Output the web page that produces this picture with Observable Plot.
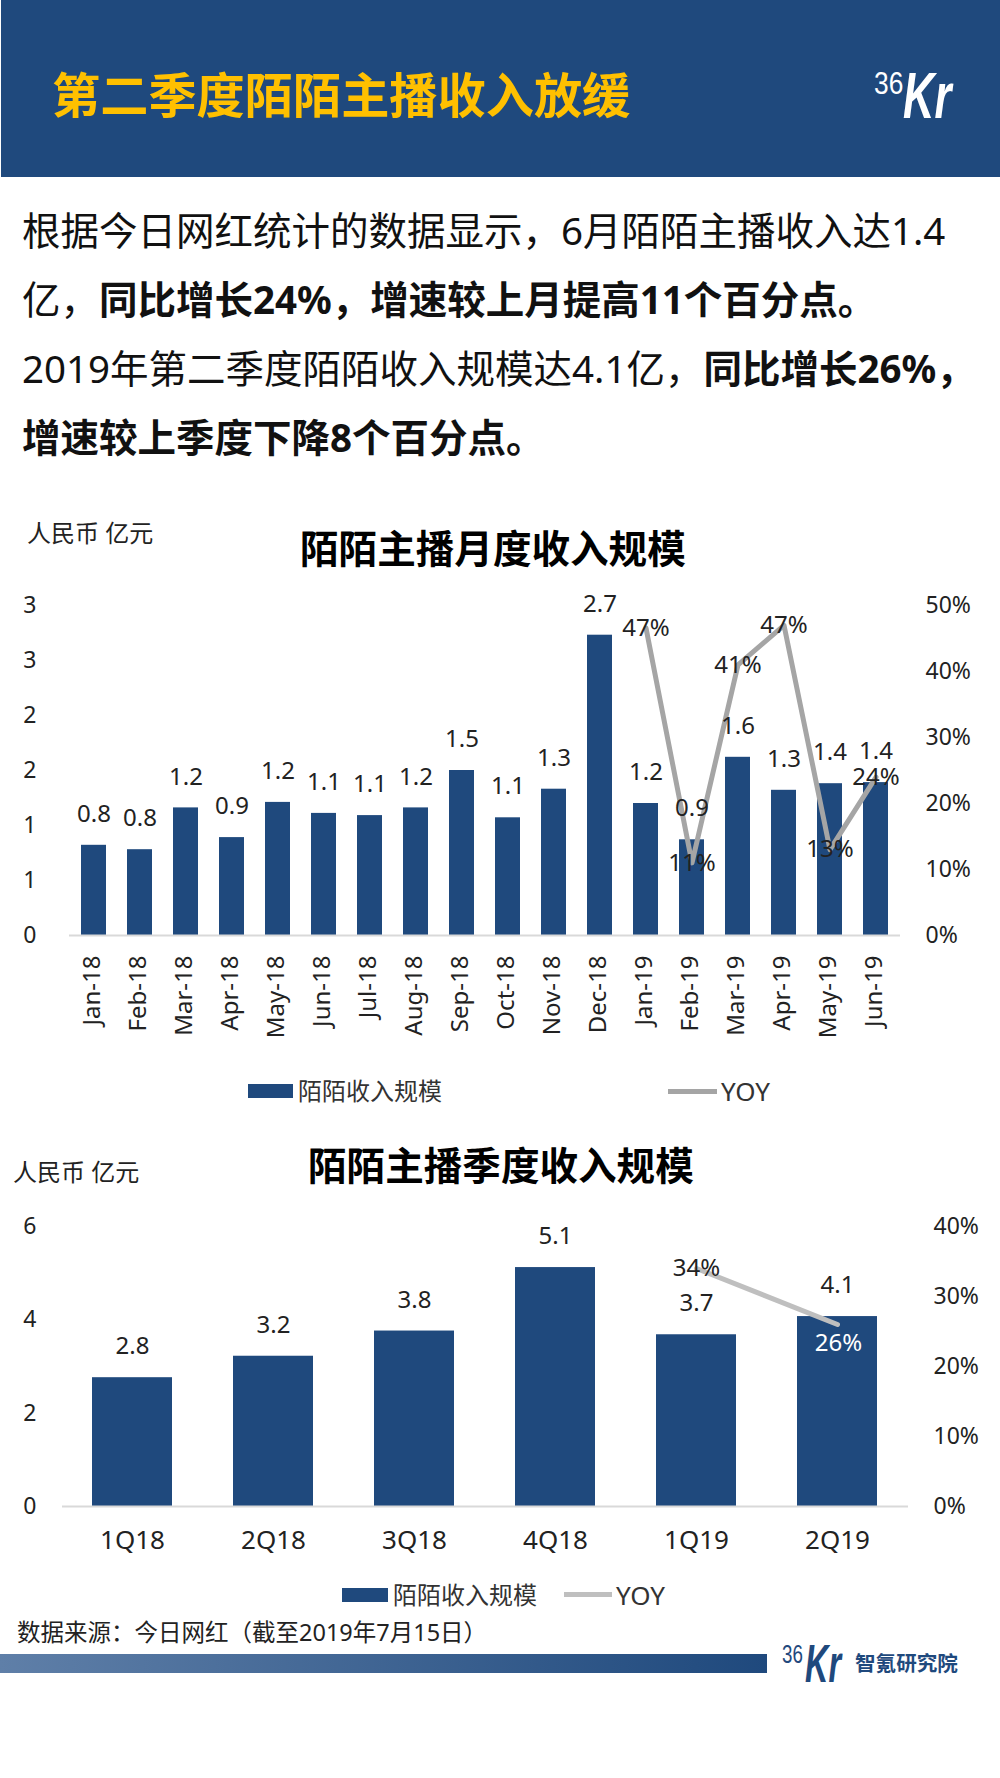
<!DOCTYPE html>
<html>
<head>
<meta charset="utf-8">
<script src="https://cdn.jsdelivr.net/npm/d3@7"></script>
<script src="https://cdn.jsdelivr.net/npm/@observablehq/plot@0.6"></script>
<style>
  html, body { margin: 0; padding: 0; background: #fff; }
  #page { position: relative; width: 1000px; height: 1778px; overflow: hidden;
    font-family: "Noto Sans", "Noto Sans CJK SC", sans-serif; color: #111; }
  #page > * { position: absolute; white-space: nowrap; }
  #page svg { overflow: visible; background: transparent; }
  .header { left: 1px; top: 0; width: 999px; height: 177px; background: #1f497d; }
  .headline { left: 52px; top: 58px; font-size: 48.2px; line-height: 72px; font-weight: 700; color: #ffc000; }
  .body-line { left: 22px; font-size: 38.5px; line-height: 50px; }
  .body-line b { font-weight: 700; }
  .chart-title { font-size: 38.6px; line-height: 50px; font-weight: 700; color: #000; }
  .unit { font-size: 24px; line-height: 30px; color: #222; }
  .legend { font-size: 24px; line-height: 30px; color: #333; }
  .latin { font-size: 26px; }
  .swatch { background: #1f497d; }
  .logo-36 { font-family: "Liberation Sans", sans-serif; transform-origin: left center; }
  .logo-kr { font-family: "Liberation Sans", sans-serif; font-weight: 700; font-style: italic; transform-origin: left center; }
</style>
</head>
<body>
<div id="page">
  <div class="header"></div>
  <div class="headline">第二季度陌陌主播收入放缓</div>
  <div class="logo-36" style="left:874px;top:66px;font-size:31px;line-height:36px;color:#fff;transform:scaleX(.85)">36</div>
  <div class="logo-kr" style="left:903px;top:64px;font-size:64px;line-height:64px;color:#fff;transform:scaleX(.68)">Kr</div>

  <div class="body-line" style="top:205px">根据今日网红统计的数据显示，6月陌陌主播收入达1.4</div>
  <div class="body-line" style="top:274px">亿，<b>同比增长24%，增速较上月提高11个百分点。</b></div>
  <div class="body-line" style="top:343px">2019年第二季度陌陌收入规模达4.1亿，<b>同比增长26%，</b></div>
  <div class="body-line" style="top:412px"><b>增速较上季度下降8个百分点。</b></div>

  <div class="unit" style="left:27px;top:518px">人民币 亿元</div>
  <div class="chart-title" style="left:300px;top:523px">陌陌主播月度收入规模</div>
  <div id="chart1" style="left:0;top:585px"></div>
  <div class="swatch" style="left:248px;top:1084px;width:45px;height:14px"></div>
  <div class="legend" style="left:298px;top:1076px">陌陌收入规模</div>
  <div style="left:668px;top:1089px;width:49px;height:5px;background:#a5a5a5"></div>
  <div class="legend latin" style="left:721px;top:1076px">YOY</div>

  <div class="unit" style="left:13px;top:1157px">人民币 亿元</div>
  <div class="chart-title" style="left:308px;top:1140px">陌陌主播季度收入规模</div>
  <div id="chart2" style="left:0;top:1200px"></div>
  <div class="swatch" style="left:342px;top:1588px;width:46px;height:14px"></div>
  <div class="legend" style="left:393px;top:1580px">陌陌收入规模</div>
  <div style="left:564px;top:1592px;width:48px;height:5px;background:#bfbfbf"></div>
  <div class="legend latin" style="left:616px;top:1580px">YOY</div>

  <div style="left:17px;top:1617px;font-size:23.5px;line-height:30px;color:#222">数据来源：今日网红（截至2019年7月15日）</div>
  <div style="left:0;top:1654px;width:767px;height:19px;background:linear-gradient(90deg,#5f7fa8,#1f497d)"></div>
  <div class="logo-36" style="left:782px;top:1636px;font-size:25px;line-height:36px;color:#1f497d;transform:scaleX(.75)">36</div>
  <div class="logo-kr" style="left:805px;top:1636px;font-size:54px;line-height:54px;color:#1f497d;transform:scaleX(.6)">Kr</div>
  <div style="left:855px;top:1648px;font-size:20.6px;line-height:30px;font-weight:700;color:#1f497d">智氪研究院</div>
</div>

<script>
// 月度数据
const months = ["Jan-18","Feb-18","Mar-18","Apr-18","May-18","Jun-18","Jul-18","Aug-18","Sep-18","Oct-18","Nov-18","Dec-18","Jan-19","Feb-19","Mar-19","Apr-19","May-19","Jun-19"]
const monthRevenue = [0.82,0.78,1.16,0.89,1.21,1.11,1.09,1.16,1.5,1.07,1.33,2.73,1.2,0.87,1.62,1.32,1.38,1.39]
const yoyMonths = ["Jan-19","Feb-19","Mar-19","Apr-19","May-19","Jun-19"]
const monthYoy = [46.6,11,41,47,13,24]
const monthLeftTicks = [0,0.5,1,1.5,2,2.5,3]
const monthLeftLabels = ["0","1","1","2","2","3","3"]
const monthRightLabels = ["0%","10%","20%","30%","40%","50%"]

// 季度数据
const quarters = ["1Q18","2Q18","3Q18","4Q18","1Q19","2Q19"]
const quarterRevenue = [2.76,3.22,3.76,5.12,3.68,4.07]
const yoyQuarters = ["1Q19","2Q19"]
const quarterYoy = [34,26]
const quarterLeftTicks = [0,2,4,6]
const quarterRightLabels = ["0%","10%","20%","30%","40%"]

const font = '"Noto Sans", "Noto Sans CJK SC", sans-serif'
const blue = "#1f497d"
const ink = "#222"

const monthData = months.map((m, i) => ({m, v: monthRevenue[i]}))
const monthLine = yoyMonths.map((m, i) => ({m, yoy: monthYoy[i]}))
const quarterData = quarters.map((m, i) => ({m, v: quarterRevenue[i]}))
const quarterLine = yoyQuarters.map((m, i) => ({m, yoy: quarterYoy[i]}))

// 月度图: 右轴 0-50% 对应左轴 0-3
const toLeft1 = p => p * 3 / 50
const chart1 = Plot.plot({
  width: 1000,
  height: 460,
  marginTop: 20,
  marginBottom: 110,
  marginLeft: 69,
  marginRight: 100,
  style: {fontFamily: font, fontSize: "23px", color: ink, background: "transparent"},
  x: {domain: months, paddingInner: 0.45, paddingOuter: 0.225, label: null},
  y: {domain: [0, 3], label: null},
  marks: [
    Plot.barY(monthData, {x: "m", y: "v", fill: blue}),
    Plot.ruleY([0], {stroke: "#d9d9d9", strokeWidth: 2}),
    Plot.line(monthLine, {x: "m", y: d => toLeft1(d.yoy), stroke: "#a5a5a5", strokeWidth: 5}),
    Plot.text(monthData, {x: "m", y: "v", text: d => d.v.toFixed(1), dy: -31, fill: ink, fontSize: 24}),
    Plot.text(monthLine, {x: "m", y: d => toLeft1(d.yoy), text: d => Math.round(d.yoy) + "%", fill: ink, fontSize: 24}),
    Plot.axisX({anchor: "bottom", tickSize: 0, tickPadding: 20, tickRotate: -90, label: null, fontSize: 24, dx: -2}),
    Plot.axisY({anchor: "left", ticks: monthLeftTicks, tickSize: 0, tickPadding: 33, label: null,
      tickFormat: d => monthLeftLabels[monthLeftTicks.indexOf(d)]}),
    Plot.axisY({anchor: "right", ticks: monthRightLabels.map((d, i) => toLeft1(i * 10)), tickSize: 0, tickPadding: 25, label: null,
      tickFormat: (d, i) => monthRightLabels[i]})
  ]
})
d3.select("#chart1").append(() => chart1)

// 季度图: 右轴 0-40% 对应左轴 0-6
const toLeft2 = p => p * 6 / 40
const chart2 = Plot.plot({
  width: 1000,
  height: 356,
  marginTop: 26,
  marginBottom: 50,
  marginLeft: 62,
  marginRight: 92,
  style: {fontFamily: font, fontSize: "23px", color: ink, background: "transparent"},
  x: {domain: quarters, paddingInner: 0.43, paddingOuter: 0.215, label: null},
  y: {domain: [0, 6], label: null},
  marks: [
    Plot.barY(quarterData, {x: "m", y: "v", fill: blue}),
    Plot.ruleY([0], {stroke: "#d9d9d9", strokeWidth: 2}),
    Plot.line(quarterLine, {x: "m", y: d => toLeft2(d.yoy), stroke: "#bfbfbf", strokeWidth: 5}),
    Plot.text(quarterData, {x: "m", y: "v", text: d => d.v.toFixed(1), dy: -31, fill: ink, fontSize: 24}),
    Plot.text(quarterLine, {x: "m", y: d => toLeft2(d.yoy), text: d => d.yoy + "%",
      fontSize: 24, fill: ink, filter: d => d.yoy != 26}),
    Plot.text(quarterLine, {x: "m", y: d => toLeft2(d.yoy), text: d => d.yoy + "%",
      dy: 19, dx: 1, fontSize: 24, fill: "#fff", filter: d => d.yoy == 26}),
    Plot.axisX({anchor: "bottom", tickSize: 0, tickPadding: 24, label: null, fontSize: 26}),
    Plot.axisY({anchor: "left", ticks: quarterLeftTicks, tickSize: 0, tickPadding: 26, label: null, tickFormat: "d"}),
    Plot.axisY({anchor: "right", ticks: quarterRightLabels.map((d, i) => toLeft2(i * 10)), tickSize: 0, tickPadding: 25, label: null,
      tickFormat: (d, i) => quarterRightLabels[i]})
  ]
})
d3.select("#chart2").append(() => chart2)
</script>
</body>
</html>
